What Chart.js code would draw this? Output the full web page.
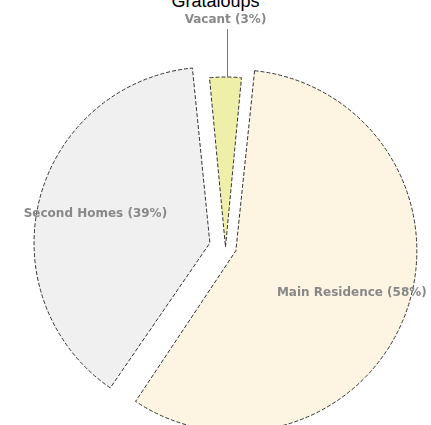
<!DOCTYPE html>
<html lang="en">
<head>
    <meta charset="UTF-8">
    <title>Grataloups</title>
    <style>
        body {
            margin: 0;
            background-color: #ffffff;
            overflow: hidden;
        }
        .wrap {
            position: relative;
            width: 431px;
            height: 425px;
            overflow: hidden;
        }
        .title {
            position: absolute;
            left: 0;
            top: -9px;
            width: 431px;
            text-align: center;
            font-family: "Liberation Sans", Arial, sans-serif;
            font-size: 18px;
            line-height: 20px;
            color: #000000;
        }
        canvas {
            position: absolute;
            left: 0;
            top: 0;
        }
    </style>
</head>
<body>
    <div class="wrap">
        <div class="title">Grataloups</div>
        <canvas id="pieChart" width="431" height="425"></canvas>
    </div>

    <script src="https://cdn.jsdelivr.net/npm/chart.js"></script>

    <script>
        // order = clockwise from the top
        const categories = ['Vacant', 'Main Residence', 'Second Homes'];
        const shares = [3, 58, 39];

        // labels in the slices, small ones go outside with a leader line
        const sliceLabels = {
            id: 'sliceLabels',
            afterDatasetsDraw(chart) {
                const ctx = chart.ctx;
                const meta = chart.getDatasetMeta(0);
                ctx.save();
                ctx.font = 'bold 12px "DejaVu Sans", Verdana, sans-serif';
                ctx.fillStyle = '#888888';
                ctx.strokeStyle = '#777777';
                ctx.lineWidth = 1;
                ctx.textAlign = 'center';
                ctx.textBaseline = 'middle';
                meta.data.forEach((arc, i) => {
                    const p = arc.getProps(['x', 'y', 'startAngle', 'endAngle', 'outerRadius']);
                    const mid = (p.startAngle + p.endAngle) / 2;
                    const cos = Math.cos(mid), sin = Math.sin(mid);
                    const text = categories[i] + ' (' + shares[i] + '%)';
                    if (shares[i] < 5) {
                        const r = p.outerRadius;
                        ctx.beginPath();
                        ctx.moveTo(Math.round(p.x + cos * r) + 1.5, p.y + sin * r);
                        ctx.lineTo(Math.round(p.x + cos * (r + 48)) + 1.5, p.y + sin * (r + 48));
                        ctx.stroke();
                        ctx.fillText(text, p.x + cos * (r + 57), p.y + sin * (r + 57));
                    } else {
                        const r = p.outerRadius * 0.79;
                        ctx.fillText(text, p.x + cos * r, p.y + sin * r);
                    }
                });
                ctx.restore();
            }
        };

        new Chart(document.getElementById('pieChart'), {
            type: 'pie',
            data: {
                labels: categories,
                datasets: [{
                    data: shares,
                    backgroundColor: ['#eeefa9', '#fdf5e2', '#f0f0f0'],
                    borderColor: '#333333',
                    borderWidth: 1,
                    borderDash: [4, 2],
                    // chart.js moves a slice by offset/4 * (2 - sin(angle)), these give ~22px
                    offset: [0, 44, 64.5],
                    clip: false
                }]
            },
            options: {
                responsive: false,
                animation: false,
                rotation: -5.4,
                radius: 170,
                layout: { padding: { left: 20, top: 69, right: 0, bottom: 0 } },
                plugins: {
                    legend: { display: false },
                    tooltip: { enabled: false }
                },
                events: []
            },
            plugins: [sliceLabels]
        });
    </script>
</body>
</html>
